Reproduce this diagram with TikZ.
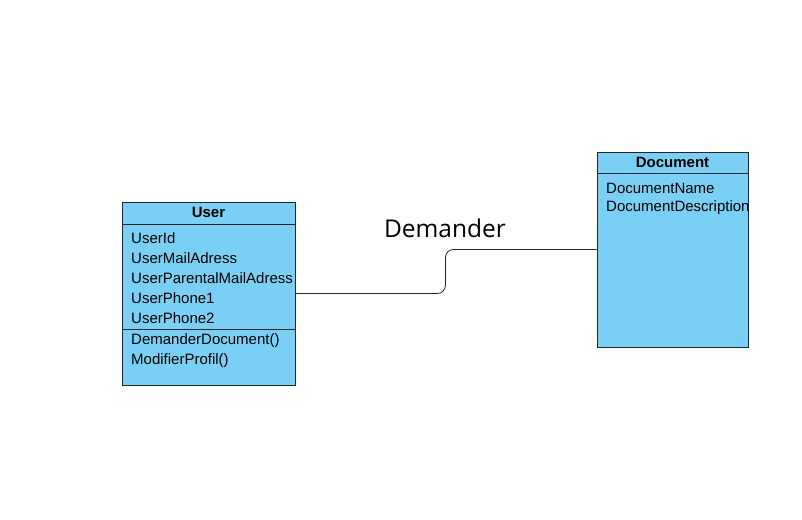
\documentclass[tikz,border=0pt]{standalone}
\usepackage{fontspec}
\setmainfont{Liberation Sans}
\newfontfamily\labelfont{Open Sans}
\usepackage{tikz}
\usetikzlibrary{positioning}

\definecolor{classblue}{RGB}{122,208,244}

\begin{document}
\begin{tikzpicture}[x=1pt, y=-1pt,
    classbox/.style = {draw=black!85, fill=classblue, line width=0.8pt, inner sep=0pt},
    member/.style = {anchor=west, inner sep=0pt, font=\fontsize{15}{18}\selectfont},
    title/.style = {inner sep=0pt, font=\fontsize{15}{18}\selectfont\bfseries}]
      \useasboundingbox (0,0) rectangle (802,519);

      % User class
      \node[classbox, minimum width=173pt, minimum height=183pt] (user) at (208.5,293.5) {};
      \draw[black!85, line width=0.8pt] (122,224) -- (295,224);
      \draw[black!85, line width=0.8pt] (122,329) -- (295,329);
      \node[title] (usertitle) at (208.5,212) {User};
      \node[member] (u1) at (131,238) {UserId};
      \node[member] (u2) at (131,258) {UserMailAdress};
      \node[member] (u3) at (131,278) {UserParentalMailAdress};
      \node[member] (u4) at (131,298) {UserPhone1};
      \node[member] (u5) at (131,318) {UserPhone2};
      \node[member] (m1) at (131,341) {DemanderDocument()};
      \node[member] (m2) at (131,361) {ModifierProfil()};

      % Document class
      \node[classbox, minimum width=151pt, minimum height=195pt] (doc) at (672.5,249.5) {};
      \draw[black!85, line width=0.8pt] (597,173) -- (748,173);
      \node[title] (doctitle) at (672.5,162) {Document};
      \node[member] (d1) at (606,188) {DocumentName};
      \node[member] (d2) at (606,208) {DocumentDescription};

      % association
      \draw[black!85, line width=0.8pt, rounded corners=8pt] (user.east) -- ++(150,0) |- (doc.west);
      \node[font=\labelfont\fontsize{24.5}{28}\selectfont] (assoc) at (445,228) {Demander};
    \end{tikzpicture}
\end{document}
